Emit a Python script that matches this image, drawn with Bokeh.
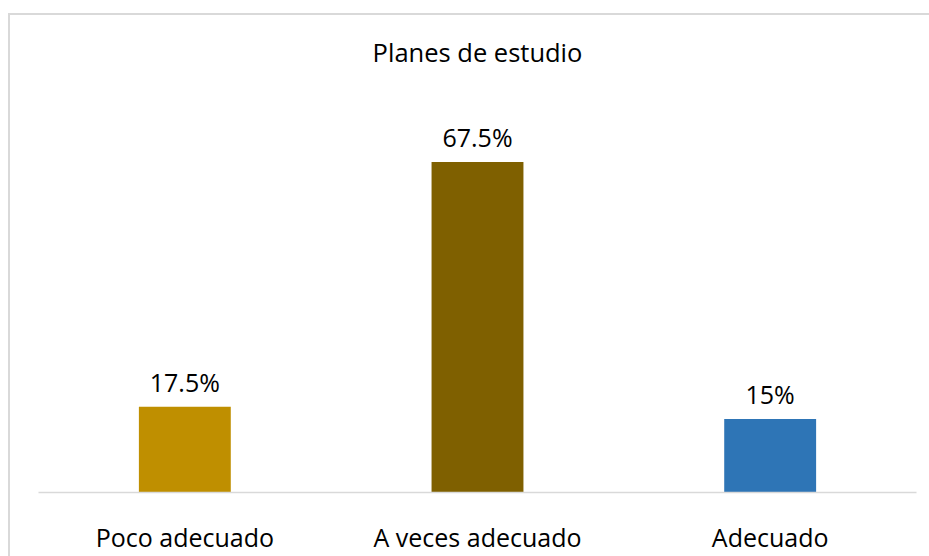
from bokeh.plotting import figure
from bokeh.models import ColumnDataSource, LabelSet, Range1d, InlineStyleSheet
from bokeh.core.properties import value
from bokeh.embed import file_html
from bokeh.resources import INLINE

categories = ["Poco adecuado", "A veces adecuado", "Adecuado"]
values = [17.5, 67.5, 15.0]
value_labels = ["17.5%", "67.5%", "15%"]
colors = ["#BF8F00", "#7F6000", "#2E75B6"]
title_text = "Planes de estudio"

FONT = "Open Sans"
TXT = "#000000"

src = ColumnDataSource(dict(cat=categories, val=values, lab=value_labels, col=colors))

p = figure(x_range=categories, y_range=Range1d(0, 85.8), width=929, height=556,
           output_backend="svg", toolbar_location=None, y_axis_location=None,
           min_border_left=38, min_border_right=13, min_border_top=72, min_border_bottom=0,
           title=title_text)

p.vbar(x="cat", top="val", width=0.314, fill_color="col", line_color=None, source=src)

p.title.align = "center"
p.title.text_font = FONT
p.title.text_font_size = "25.5px"
p.title.text_font_style = "normal"
p.title.text_color = TXT
p.title.standoff = 8

ax = p.xaxis[0]
ax.axis_line_color = "#D9D9D9"
ax.axis_line_width = 1.5
ax.major_tick_line_color = None
ax.minor_tick_line_color = None
ax.major_tick_out = 0
ax.major_tick_in = 0
ax.major_label_standoff = 27
ax.major_label_text_font = FONT
ax.major_label_text_font_size = "25px"
ax.major_label_text_color = TXT

p.xgrid.grid_line_color = None
p.ygrid.grid_line_color = None
p.outline_line_color = None

labels = LabelSet(x="cat", y="val", text="lab", source=src, text_align="center",
                  text_baseline="alphabetic", y_offset=15, text_font=value(FONT),
                  text_font_size=value("25px"), text_color=TXT)
p.add_layout(labels)

border_css = InlineStyleSheet(css="""
:host { position: relative; }
:host::after {
  content: "";
  position: absolute;
  left: 8px; top: 13px; right: 0; bottom: 0;
  border-left: 2px solid #D9D9D9;
  border-top: 2px solid #D9D9D9;
  pointer-events: none;
}
""")
p.stylesheets = [border_css]

open("out.html", "w").write(file_html(p, INLINE))
